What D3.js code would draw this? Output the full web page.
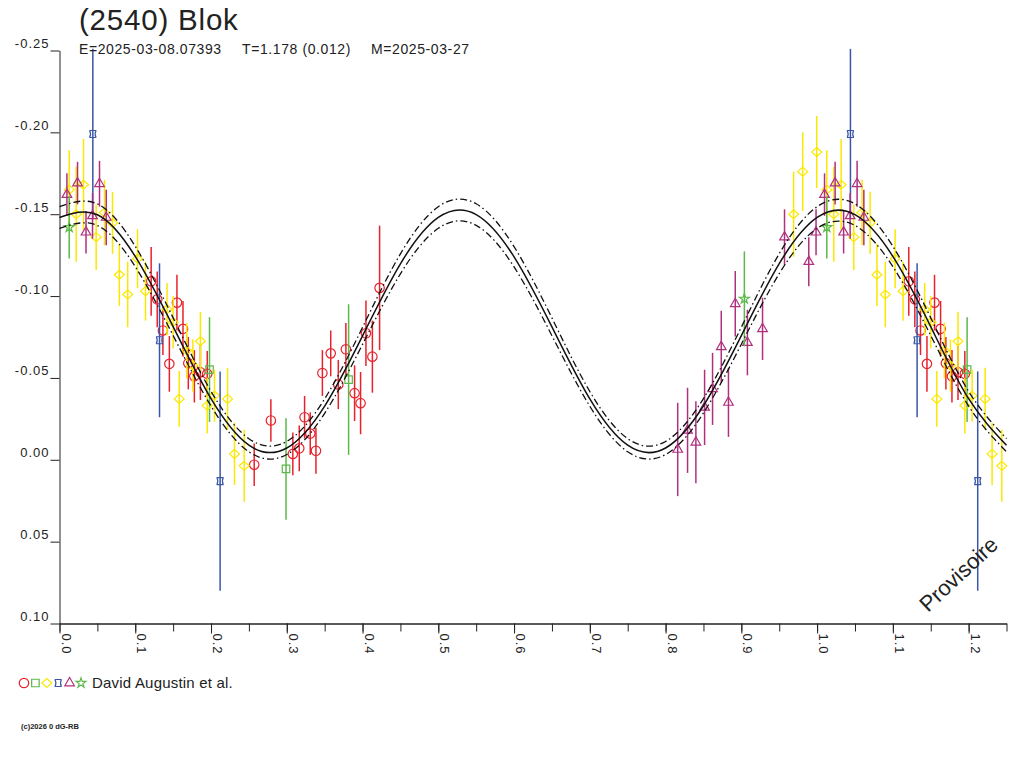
<!DOCTYPE html>
<html>
<head>
<meta charset="utf-8">
<script src="https://cdn.jsdelivr.net/npm/d3@7"></script>
<style>
  body { margin: 0; background: #fff; }
  text { font-family: "Liberation Sans", Arial, sans-serif; fill: #222; }
</style>
</head>
<body>
<div id="chart"></div>
<script>
// ---- data (phase, magnitude, error) ----
const redCircles = [
  [0.121, -0.109, 0.021], [0.129, -0.098, 0.017], [0.155, -0.096, 0.017], [0.1365, -0.079, 0.015],
  [0.163, -0.080, 0.017], [0.145, -0.0586, 0.017], [0.170, -0.059, 0.016], [0.178, -0.051, 0.016],
  [0.186, -0.0535, 0.017], [0.195, -0.0525, 0.014], [0.257, 0.003, 0.013], [0.279, -0.024, 0.013],
  [0.308, -0.0036, 0.013], [0.3165, -0.007, 0.014], [0.3235, -0.026, 0.013], [0.331, -0.016, 0.013],
  [0.3385, -0.0055, 0.014], [0.347, -0.053, 0.014], [0.358, -0.065, 0.014], [0.368, -0.046, 0.015],
  [0.378, -0.0675, 0.016], [0.3895, -0.0407, 0.017], [0.3974, -0.0346, 0.019], [0.4045, -0.0773, 0.020],
  [0.413, -0.063, 0.022], [0.4225, -0.105, 0.038]
];
const greenSquares = [
  [0.198, -0.0551, 0.032], [0.299, 0.0056, 0.031], [0.3816, -0.049, 0.046]
];
const yellowDiamonds = [
  [0.0128, -0.165, 0.024], [0.0317, -0.168, 0.028], [0.022, -0.150, 0.029], [0.0484, -0.136, 0.020],
  [0.0594, -0.151, 0.020], [0.070, -0.1447, 0.019], [0.079, -0.113, 0.019], [0.090, -0.101, 0.020],
  [0.103, -0.1228, 0.018], [0.1135, -0.103, 0.018], [0.142, -0.092, 0.016], [0.150, -0.084, 0.016],
  [0.186, -0.0724, 0.018], [0.168, -0.0667, 0.017], [0.176, -0.0576, 0.016], [0.158, -0.0372, 0.017],
  [0.195, -0.0331, 0.017], [0.2046, -0.0392, 0.016], [0.2218, -0.0372, 0.019], [0.231, -0.0036, 0.019],
  [0.2438, 0.0037, 0.022], [0.969, -0.150, 0.026], [0.981, -0.176, 0.024], [0.9995, -0.188, 0.022]
];
const blueMarks = [
  [0.044, -0.199, 0.052], [0.132, -0.073, 0.047], [0.212, 0.013, 0.067]
];
const purpleTriangles = [
  [0.0098, -0.162, 0.013], [0.0238, -0.169, 0.013], [0.035, -0.139, 0.013], [0.0436, -0.149, 0.014],
  [0.0528, -0.1686, 0.014], [0.0617, -0.148, 0.017], [0.816, -0.0063, 0.0285], [0.829, -0.018, 0.026],
  [0.840, -0.0107, 0.025], [0.8515, -0.032, 0.023], [0.862, -0.0433, 0.022], [0.8735, -0.069, 0.022],
  [0.883, -0.035, 0.021], [0.892, -0.0953, 0.020], [0.908, -0.0716, 0.020], [0.928, -0.080, 0.019],
  [0.957, -0.136, 0.017], [0.989, -0.121, 0.015], [0.9986, -0.139, 0.014]
];
const greenStars = [
  [0.0128, -0.142, 0.019], [0.904, -0.0983, 0.029]
];

// fitted curve and its envelope, sampled every 0.05 in phase
const curvePhase = [0, 0.05, 0.10, 0.15, 0.20, 0.25, 0.30, 0.35, 0.40, 0.45, 0.50, 0.55, 0.60,
  0.65, 0.70, 0.75, 0.80, 0.85, 0.90, 0.95, 1.00, 1.05, 1.10, 1.15, 1.20, 1.25];
const curveMid = [-0.1480, -0.1497, -0.1242, -0.0813, -0.0373, -0.0089, -0.0072, -0.0328, -0.0757,
  -0.1197, -0.1480, -0.1498, -0.1240, -0.0812, -0.0372, -0.0089, -0.0072, -0.0330, -0.0758, -0.1198,
  -0.1480, -0.1497, -0.1242, -0.0813, -0.0373, -0.0089];
const curveUpper = [-0.1546, -0.1563, -0.1304, -0.0867, -0.0418, -0.0129, -0.0112, -0.0372, -0.0809,
  -0.1258, -0.1546, -0.1564, -0.1302, -0.0866, -0.0417, -0.0129, -0.0112, -0.0374, -0.0810, -0.1259,
  -0.1546, -0.1563, -0.1304, -0.0867, -0.0418, -0.0129];
const curveLower = [-0.1414, -0.1431, -0.1180, -0.0759, -0.0328, -0.0049, -0.0032, -0.0284, -0.0705,
  -0.1136, -0.1414, -0.1432, -0.1178, -0.0758, -0.0327, -0.0049, -0.0032, -0.0286, -0.0706, -0.1137,
  -0.1414, -0.1431, -0.1180, -0.0759, -0.0328, -0.0049];

const yTicks = [-0.25, -0.20, -0.15, -0.10, -0.05, 0.00, 0.05, 0.10];
const yTickLabels = ['-0.25', '-0.20', '-0.15', '-0.10', '-0.05', '0.00', '0.05', '0.10'];
const xTicks = [0, 0.1, 0.2, 0.3, 0.4, 0.5, 0.6, 0.7, 0.8, 0.9, 1.0, 1.1, 1.2];
const xTickLabels = ['0.0', '0.1', '0.2', '0.3', '0.4', '0.5', '0.6', '0.7', '0.8', '0.9', '1.0', '1.1', '1.2'];

const series = [
  { pts: redCircles, color: '#e8222c', sym: 'circle' },
  { pts: greenSquares, color: '#5cb84a', sym: 'square' },
  { pts: yellowDiamonds, color: '#fbe800', sym: 'diamond' },
  { pts: blueMarks, color: '#3a56a8', sym: 'hourglass' },
  { pts: purpleTriangles, color: '#b0307e', sym: 'triangle' },
  { pts: greenStars, color: '#5cb84a', sym: 'star' }
];

const width = 1024, height = 768;
const x = d3.scaleLinear().domain([0, 1.25]).range([59.5, 1006.5]);
const y = d3.scaleLinear().domain([-0.25, 0.10]).range([50.5, 623.5]);

const svg = d3.select('#chart').append('svg')
  .attr('width', width).attr('height', height);

const symbolPath = {
  circle: d3.symbol(d3.symbolCircle, 70)(),
  square: d3.symbol(d3.symbolSquare, 56)(),
  diamond: 'M0,-4.5L5,0L0,4.5L-5,0Z',
  hourglass: 'M-3.5,-3.5H3.5M-3.5,3.5H3.5M-3.2,-3.5Q-1.4,0 -3.2,3.5M3.2,-3.5Q1.4,0 3.2,3.5',
  triangle: d3.symbol(d3.symbolTriangle, 40)(),
  star: d3.symbol(d3.symbolStar, 30)()
};

// ---- axes ----
const yAxis = svg.append('g')
  .attr('transform', `translate(${x(0)},0)`)
  .call(d3.axisLeft(y).tickValues(yTicks).tickFormat((d, i) => yTickLabels[i])
    .tickSize(9).tickSizeOuter(0));
yAxis.selectAll('text')
  .attr('x', -10).attr('dy', '-3px')
  .attr('font-size', 13).style('letter-spacing', '1px');

svg.append('g')
  .attr('transform', `translate(0,${y(0.10)})`)
  .call(d3.axisBottom(x).tickValues(x.ticks(25)).tickSize(8).tickSizeOuter(0).tickFormat(''));

const xAxis = svg.append('g')
  .attr('transform', `translate(0,${y(0.10)})`)
  .call(d3.axisBottom(x).tickValues(xTicks).tickFormat((d, i) => xTickLabels[i])
    .tickSize(10).tickSizeOuter(0));
xAxis.selectAll('text')
  .attr('transform', 'rotate(90)')
  .attr('x', 10).attr('y', -1.5).attr('dy', 0)
  .style('text-anchor', 'start')
  .attr('font-size', 13).style('letter-spacing', '1px');

svg.selectAll('.domain, .tick line').attr('stroke', '#222');
svg.selectAll('.tick text').attr('fill', '#222').attr('font-family', '"Liberation Sans", Arial, sans-serif');

// ---- data points (phases below 0.25 repeated after 1.0) ----
const pointsGroup = svg.append('g');
series.forEach(s => {
  const shown = s.pts.flatMap(p => p[0] + 1 <= 1.25 ? [p, [p[0] + 1, p[1], p[2]]] : [p]);
  const g = pointsGroup.append('g');
  g.selectAll('line').data(shown).enter().append('line')
    .attr('x1', d => x(d[0])).attr('x2', d => x(d[0]))
    .attr('y1', d => y(d[1] - d[2])).attr('y2', d => y(d[1] + d[2]))
    .attr('stroke', s.color).attr('stroke-width', 1.5);
  g.selectAll('path').data(shown).enter().append('path')
    .attr('d', symbolPath[s.sym])
    .attr('transform', d => `translate(${x(d[0])},${y(d[1])})`)
    .attr('fill', 'none').attr('stroke', s.color).attr('stroke-width', 1.2);
});

// ---- fitted curves ----
const lineOf = vals => d3.line()
  .x((d, i) => x(curvePhase[i])).y(d => y(d))
  .curve(d3.curveNatural)(vals);

svg.append('path').attr('d', lineOf(curveMid))
  .attr('fill', 'none').attr('stroke', '#111').attr('stroke-width', 1.5);
[curveUpper, curveLower].forEach(c => {
  svg.append('path').attr('d', lineOf(c))
    .attr('fill', 'none').attr('stroke', '#111').attr('stroke-width', 1.3)
    .attr('stroke-dasharray', '7,3,1.5,3');
});

// ---- texts ----
svg.append('text').attr('x', 79).attr('y', 29.5)
  .attr('font-size', 29.5).style('letter-spacing', '0.8px').text('(2540) Blok');

svg.append('text').attr('x', 79).attr('y', 54).attr('font-size', 14)
  .style('letter-spacing', '0.6px').text('E=2025-03-08.07393');
svg.append('text').attr('x', 242).attr('y', 54).attr('font-size', 14)
  .style('letter-spacing', '0.6px').text('T=1.178 (0.012)');
svg.append('text').attr('x', 371).attr('y', 54).attr('font-size', 14)
  .style('letter-spacing', '0.6px').text('M=2025-03-27');

svg.append('text')
  .attr('transform', 'translate(928,613) rotate(-43)')
  .attr('font-size', 22).attr('fill', '#333').text('Provisoire');

// ---- legend ----
const legend = svg.append('g').attr('transform', 'translate(24,683)');
series.forEach((s, i) => {
  legend.append('path')
    .attr('d', symbolPath[s.sym])
    .attr('transform', `translate(${i * 11.4},0)`)
    .attr('fill', 'none').attr('stroke', s.color).attr('stroke-width', 1.2);
});
legend.append('text').attr('x', 68).attr('y', 5).attr('font-size', 15)
  .style('letter-spacing', '0.2px').text('David Augustin et al.');

svg.append('text').attr('x', 21).attr('y', 729)
  .attr('font-size', 7.5).attr('font-weight', 'bold').attr('fill', '#333')
  .text('(c)2026 0 dG-RB');
</script>
</body>
</html>
